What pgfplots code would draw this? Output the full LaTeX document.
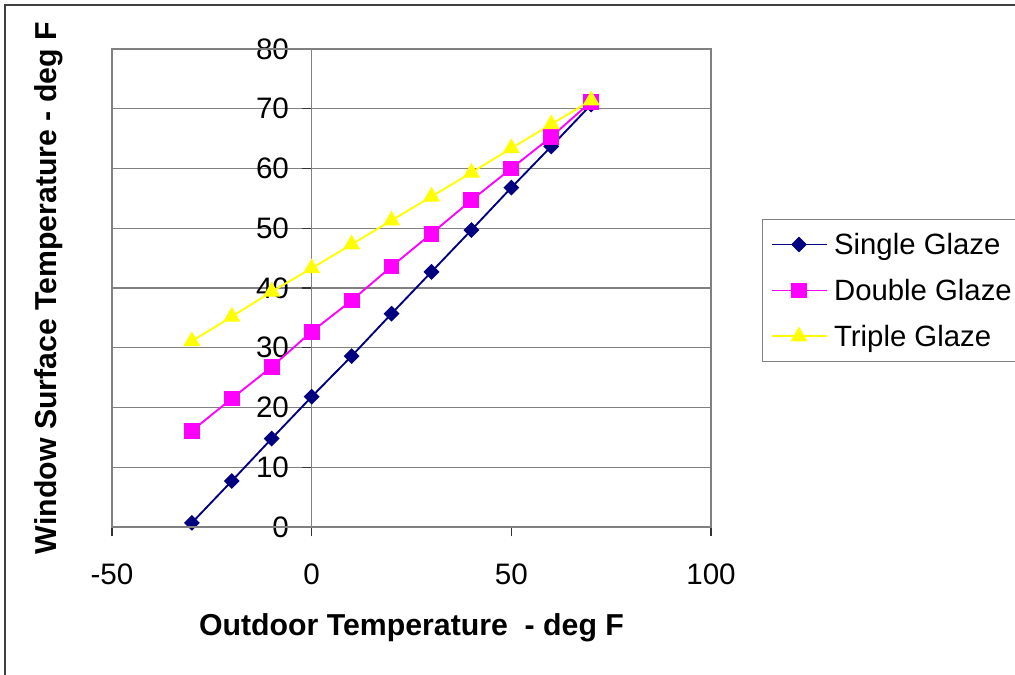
\documentclass[border=0pt]{standalone}
\usepackage{fontspec}
\setmainfont{Liberation Sans}
\usepackage{pgfplots}
\pgfplotsset{compat=1.18}
\definecolor{navyc}{RGB}{0,0,128}
\definecolor{magc}{RGB}{255,0,255}
\definecolor{yelc}{RGB}{255,255,0}
\definecolor{gridc}{RGB}{128,128,128}
\begin{document}
\begin{tikzpicture}
\useasboundingbox (0pt,0pt) rectangle (761.25pt,506.25pt);
\draw[line width=1.5pt, color=black!75] (3.75pt,-20pt) -- (3.75pt,502.5pt) -- (800pt,502.5pt);
\begin{axis}[
  at={(84pt,111pt)}, anchor=south west,
  scale only axis, width=449.25pt, height=358.5pt,
  xmin=-50, xmax=100, ymin=0, ymax=80,
  axis lines=middle,
  axis line style={-},
  x axis line style={color=black!80, line width=0.9pt},
  y axis line style={color=gridc, line width=0.9pt},
  hide obscured x ticks=false, hide obscured y ticks=false,
  xtick={-50,0,50,100}, ytick={0,10,...,80},
  tick align=outside, major tick length=7pt,
  tick style={color=black!80, line width=0.9pt},
  ymajorgrids, grid style={color=gridc, line width=0.9pt},
  /pgf/number format/assume math mode=true,
  ticklabel style={font=\fontsize{22.2}{26}\selectfont},
  xticklabel style={yshift=-17pt},
  yticklabel style={xshift=-6.5pt},
  xlabel={Outdoor Temperature~ - deg F},
  ylabel={Window Surface Temperature - deg F},
  xlabel style={at={(axis description cs:0.5,-0.2113)}, anchor=center, font=\fontsize{22.7}{26}\selectfont\bfseries},
  ylabel style={at={(axis description cs:-0.1052,0.5)}, anchor=center, rotate=90, font=\fontsize{22.7}{26}\selectfont\bfseries},
  legend style={at={(axis description cs:1.0851,0.6444)}, anchor=north west,
    draw=gridc, line width=0.9pt, font=\fontsize{22}{26}\selectfont,
    inner xsep=6pt, inner ysep=8pt, row sep=13pt, cells={anchor=west}},
  legend image code/.code={\draw[#1, mark repeat=2, mark phase=2] plot coordinates {(0pt,0pt) (20.6pt,0pt) (41.25pt,0pt)};},
  after end axis/.code={\draw[color=gridc, line width=0.9pt] (rel axis cs:0,0) rectangle (rel axis cs:1,1);},
  clip=false,
]
\addplot[color=navyc, line width=1.4pt, mark=square*, mark size=3.5pt, mark options={fill=navyc, rotate=45}] coordinates {
(-30,0.7) (-20,7.7) (-10,14.8) (0,21.8) (10,28.6) (20,35.7) (30,42.7) (40,49.7) (50,56.8) (60,63.7) (70,70.7)};
\addlegendentry{\hspace*{3pt}Single Glaze}
\addplot[color=magc, line width=1.4pt, mark=square*, mark size=5.25pt, mark options={fill=magc}] coordinates {
(-30,16.1) (-20,21.5) (-10,26.8) (0,32.7) (10,37.9) (20,43.6) (30,49.1) (40,54.7) (50,60.0) (60,65.3) (70,71.2)};
\addlegendentry{\hspace*{3pt}Double Glaze}
\addplot[color=yelc, line width=1.4pt, mark=triangle*, mark size=6pt, mark options={fill=yelc}] coordinates {
(-30,31.1) (-20,35.2) (-10,39.4) (0,43.3) (10,47.3) (20,51.3) (30,55.3) (40,59.3) (50,63.4) (60,67.4) (70,71.4)};
\addlegendentry{\hspace*{3pt}Triple Glaze}
\end{axis}
\end{tikzpicture}
\end{document}
